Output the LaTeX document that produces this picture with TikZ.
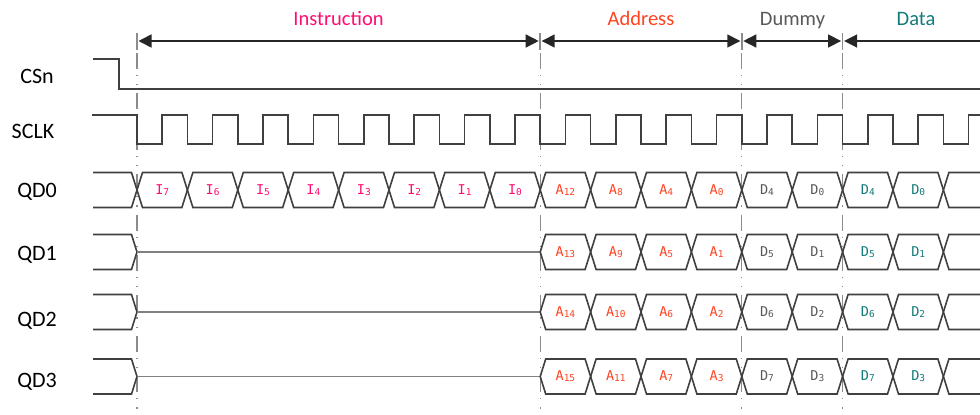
\documentclass[tikz,border=0pt]{standalone}
\usepackage{fontspec}
\setmainfont{Carlito}
\newfontfamily\cellfont{DejaVu Sans Mono}
\usetikzlibrary{arrows.meta}
\definecolor{sig}{HTML}{404040}
\definecolor{flat}{HTML}{808080}
\definecolor{guide}{HTML}{8C8C8C}
\definecolor{arr}{HTML}{262626}
\definecolor{cinst}{HTML}{FF0D72}
\definecolor{caddr}{HTML}{FF4321}
\definecolor{cdum}{HTML}{595959}
\definecolor{cdata}{HTML}{147A7A}
\newcommand\cellsig[2]{{\cellfont\fontsize{13.5}{13.5}\selectfont #1}\raisebox{-0.9pt}{\cellfont\fontsize{9.5}{9.5}\selectfont #2}}
\tikzset{
  sigline/.style={draw=sig,line width=1.6pt,line join=miter},
  flatline/.style={draw=flat,line width=1.6pt},
  guidetick/.style={draw=guide,line width=1.6pt},
  guidedash/.style={draw=guide,line width=1.3pt,dash pattern=on 16pt off 6pt on 1.2pt off 8pt on 1.2pt off 8pt},
  span/.style={draw=arr,line width=1.5pt,shorten <=1.5pt,shorten >=1.5pt},
  sname/.style={font=\fontsize{22}{24}\selectfont,text=black,inner sep=0pt,anchor=base},
  phase/.style={font=\fontsize{20.5}{22}\selectfont,inner sep=0pt,anchor=base},
  cellt/.style={inner sep=0pt}
}
\begin{document}
\begin{tikzpicture}[x=1pt,y=-1pt]
\def\T{50.4}
\def\xo{137}
\def\hh{5.5}
\clip (0,0) rectangle (980,415);
\fill[white] (0,0) rectangle (980,415);
% guides
\foreach \g in {0,8,12,14}{
  \pgfmathsetmacro\gx{\xo+\g*\T}
  \draw[guidetick] (\gx,33) -- (\gx,50);
  \draw[guidedash] (\gx,53) -- (\gx,415);
}
% phase arrows
\coordinate (p0) at (\xo,41);
\coordinate (p8) at ({\xo+8*\T},41);
\coordinate (p12) at ({\xo+12*\T},41);
\coordinate (p14) at ({\xo+14*\T},41);
\coordinate (pend) at (990,41);
\draw[span,{Triangle[length=13pt,width=13pt]}-{Triangle[length=13pt,width=13pt]}] (p0) -- (p8);
\draw[span,{Triangle[length=13pt,width=13pt]}-{Triangle[length=13pt,width=13pt]}] (p8) -- (p12);
\draw[span,{Triangle[length=13pt,width=13pt]}-{Triangle[length=13pt,width=13pt]}] (p12) -- (p14);
\draw[span,{Triangle[length=13pt,width=13pt]}-] (p14) -- (pend);
\node[phase,text=cinst] (tinst) at (338.5,25) {Instruction};
\node[phase,text=caddr] (taddr) at (641,25) {Address};
\node[phase,text=cdum] (tdum) at (792.5,25) {Dummy};
\node[phase,text=cdata] (tdata) at (916,25) {Data};
% signal names
\node[sname] (ncs) at (37,83) {CSn};
\node[sname] (nclk) at (33,138) {SCLK};
\node[sname] (nq0) at (37,197) {QD0};
\node[sname] (nq1) at (37,260) {QD1};
\node[sname] (nq2) at (37,326) {QD2};
\node[sname] (nq3) at (37,387) {QD3};
% CSn
\draw[sigline] (93,59) -- (119,59) -- (119,89) -- (985,89);
% SCLK
\draw[sigline] (92,115) -- (\xo,115) -- (\xo,144)
  \foreach \k in {1,...,17}{ -- ({\xo+(\k-0.5)*\T},144) -- ({\xo+(\k-0.5)*\T},115) -- ({\xo+\k*\T},115) -- ({\xo+\k*\T},144) };
% buses
\foreach \m/\st in {190/0,252/8,312/8,376.5/8}{
  \pgfmathsetmacro\tp{\m-17.5}
  \pgfmathsetmacro\bt{\m+17.5}
  \draw[sigline] (93,\tp) -- ({\xo-\hh},\tp) -- (\xo,\m) -- ({\xo-\hh},\bt) -- (93,\bt);
  \ifnum\st>0
    \draw[flatline] (\xo,\m) -- ({\xo+\st*\T},\m);
  \fi
  \foreach \k in {\st,...,15}{
    \pgfmathsetmacro\ca{\xo+\k*\T}
    \pgfmathsetmacro\cb{\ca+\T}
    \draw[sigline] (\ca,\m) -- ({\ca+\hh},\tp) -- ({\cb-\hh},\tp) -- (\cb,\m) -- ({\cb-\hh},\bt) -- ({\ca+\hh},\bt) -- cycle;
  }
  \pgfmathsetmacro\cz{\xo+16*\T}
  \draw[sigline] (985,\tp) -- ({\cz+\hh},\tp) -- (\cz,\m) -- ({\cz+\hh},\bt) -- (985,\bt);
}
% cell labels QD0
\foreach \k/\l/\s/\c in {0/I/7/cinst,1/I/6/cinst,2/I/5/cinst,3/I/4/cinst,4/I/3/cinst,5/I/2/cinst,6/I/1/cinst,7/I/0/cinst,
  8/A/12/caddr,9/A/8/caddr,10/A/4/caddr,11/A/0/caddr,12/D/4/cdum,13/D/0/cdum,14/D/4/cdata,15/D/0/cdata}{
  \node[cellt,text=\c] (q0c\k) at ({\xo+(\k+0.5)*\T},190) {\cellsig{\l}{\s}};
}
\foreach \k/\l/\s/\c in {8/A/13/caddr,9/A/9/caddr,10/A/5/caddr,11/A/1/caddr,12/D/5/cdum,13/D/1/cdum,14/D/5/cdata,15/D/1/cdata}{
  \node[cellt,text=\c] (q1c\k) at ({\xo+(\k+0.5)*\T},252) {\cellsig{\l}{\s}};
}
\foreach \k/\l/\s/\c in {8/A/14/caddr,9/A/10/caddr,10/A/6/caddr,11/A/2/caddr,12/D/6/cdum,13/D/2/cdum,14/D/6/cdata,15/D/2/cdata}{
  \node[cellt,text=\c] (q2c\k) at ({\xo+(\k+0.5)*\T},312) {\cellsig{\l}{\s}};
}
\foreach \k/\l/\s/\c in {8/A/15/caddr,9/A/11/caddr,10/A/7/caddr,11/A/3/caddr,12/D/7/cdum,13/D/3/cdum,14/D/7/cdata,15/D/3/cdata}{
  \node[cellt,text=\c] (q3c\k) at ({\xo+(\k+0.5)*\T},376.5) {\cellsig{\l}{\s}};
}
\end{tikzpicture}
\end{document}
